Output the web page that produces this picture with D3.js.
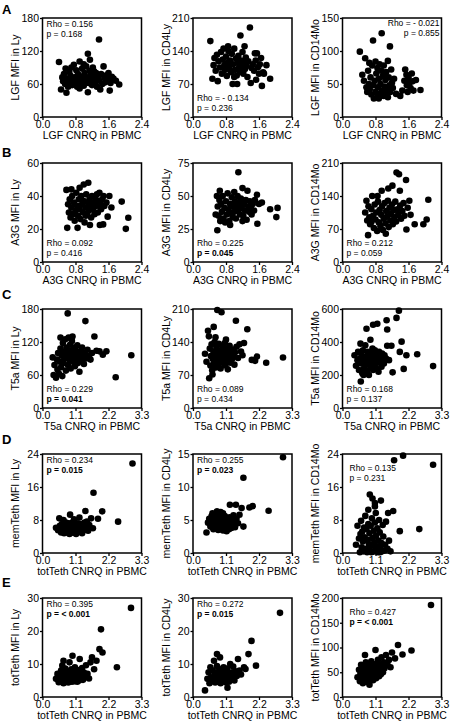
<!DOCTYPE html>
<html><head><meta charset="utf-8">
<script src="https://cdn.jsdelivr.net/npm/d3@7"></script>
<style>body{margin:0;background:#fff}svg{display:block}</style>
</head><body><svg id="c" width="453" height="724"></svg>
<script>
// ---------- data ----------
const panelLetters = ["A","B","C","D","E"];
const genes = ["LGF","A3G","T5a","memTeth","totTeth"];
const xGenes = ["LGF","A3G","T5a","totTeth","totTeth"];
const cellTypes = ["Ly","CD4Ly","CD14Mo"];
const xTicksAB = [0, 0.8, 1.6, 2.4];
const xTicksCDE = [0, 1.1, 2.2, 3.3];
const yTicksA = [[0,60,120,180],[0,70,140,210],[0,50,100,150]];
const yTicksB = [[0,20,40,60],[0,25,50,75],[0,70,140,210]];
const yTicksC = [[0,60,120,180],[0,70,140,210],[0,200,400,600]];
const yTicksD = [[0,8,16,24],[0,5,10,15],[0,8,16,24]];
const yTicksE = [[0,10,20,30],[0,10,20,30],[0,50,100,150,200]];
const rhoA = ["0.156","- 0.134","- 0.021"], pA = ["0.168","0.236","0.855"];
const rhoB = ["0.092","0.225","0.212"], pB = ["0.416","0.045","0.059"];
const rhoC = ["0.229","0.089","0.168"], pC = ["0.041","0.434","0.137"];
const rhoD = ["0.234","0.255","0.135"], pD = ["0.015","0.023","0.231"];
const rhoE = ["0.395","0.272","0.427"], pE = ["< 0.001","0.015","< 0.001"];

const lgfLy = [[0.40,100],[0.45,50],[0.48,72],[0.50,65],[0.52,78],[0.55,60],[0.58,44],[0.60,70],[0.62,55],[0.65,82],[0.66,63],[0.68,75],[0.70,90],[0.72,58],[0.74,68],[0.76,95],[0.78,72],[0.80,62],[0.82,85],[0.84,55],[0.86,78],[0.88,66],[0.90,101],[0.92,70],[0.94,60],[0.96,88],[0.98,74],[1.00,57],[1.02,80],[1.04,66],[1.06,92],[1.08,72],[1.10,115],[1.10,45],[1.12,62],[1.14,84],[1.16,70],[1.18,78],[1.20,58],[1.22,90],[1.24,68],[1.26,75],[1.28,62],[1.30,80],[1.32,55],[1.34,72],[1.37,141],[1.38,66],[1.40,50],[1.42,78],[1.45,60],[1.48,92],[1.50,72],[1.52,63],[1.55,76],[1.58,68],[1.60,80],[1.63,48],[1.65,62],[1.68,73],[1.72,70],[1.78,66],[1.86,59],[0.56,88],[0.90,52],[1.00,96],[1.15,104],[1.25,83]];
const lgfCD4 = [[0.42,161],[0.47,81],[0.50,110],[0.52,125],[0.55,98],[0.58,132],[0.60,76],[0.62,118],[0.65,105],[0.68,138],[0.70,92],[0.72,122],[0.74,145],[0.76,110],[0.78,100],[0.80,128],[0.82,87],[0.84,115],[0.86,140],[0.88,104],[0.90,120],[0.92,95],[0.94,134],[0.96,70],[0.97,112],[1.00,145],[1.02,100],[1.04,124],[1.06,88],[1.07,70],[1.08,115],[1.10,130],[1.12,106],[1.14,96],[1.15,173],[1.16,120],[1.18,110],[1.20,138],[1.22,92],[1.24,116],[1.26,102],[1.28,126],[1.30,108],[1.32,85],[1.34,118],[1.38,190],[1.40,72],[1.42,104],[1.45,112],[1.48,98],[1.50,135],[1.52,120],[1.53,79],[1.55,135],[1.58,106],[1.60,92],[1.62,112],[1.65,125],[1.67,66],[1.70,95],[1.72,92],[1.78,110],[1.87,81],[0.85,150],[1.00,85],[1.25,150]];
const lgfCD14 = [[0.42,99],[0.48,64],[0.52,55],[0.55,89],[0.58,45],[0.60,38],[0.62,70],[0.64,50],[0.66,42],[0.68,60],[0.70,34],[0.72,78],[0.74,116],[0.75,48],[0.76,28],[0.78,55],[0.80,84],[0.80,38],[0.82,66],[0.84,30],[0.85,74],[0.86,45],[0.88,58],[0.90,35],[0.90,80],[0.92,50],[0.94,70],[0.95,127],[0.96,40],[0.98,62],[1.00,32],[1.00,78],[1.02,46],[1.04,56],[1.05,36],[1.06,68],[1.08,42],[1.10,85],[1.10,30],[1.12,60],[1.14,48],[1.15,107],[1.16,38],[1.18,72],[1.20,52],[1.22,44],[1.25,58],[1.30,35],[1.40,32],[1.45,40],[1.50,55],[1.52,72],[1.55,64],[1.56,48],[1.58,38],[1.60,60],[1.62,52],[1.65,44],[1.68,66],[1.70,54],[1.72,40],[1.78,56],[1.89,41],[0.65,82],[0.88,28]];

const a3gLy = [[0.58,43.7],[0.60,20.7],[0.62,35],[0.64,30],[0.66,38],[0.68,27],[0.70,33],[0.72,40],[0.74,29],[0.76,36],[0.78,25],[0.80,31],[0.82,42],[0.84,34],[0.85,20.7],[0.86,28],[0.88,38],[0.90,32],[0.92,26],[0.94,40],[0.96,35],[0.98,30],[1.00,47],[1.00,37],[1.02,24],[1.04,33],[1.06,41],[1.08,29],[1.10,36],[1.11,48],[1.12,31],[1.14,38],[1.15,22.4],[1.16,34],[1.18,27],[1.20,40],[1.22,32],[1.24,36],[1.26,29],[1.28,39],[1.30,34],[1.32,41],[1.34,30],[1.36,37],[1.38,42],[1.39,22.4],[1.40,35],[1.42,32],[1.45,38],[1.47,22.8],[1.48,40],[1.50,34],[1.55,36],[1.58,27.5],[1.62,40],[1.67,33],[1.92,36.6],[2.02,20.1],[2.08,26.8],[0.70,44],[0.90,45],[1.05,28]];
const a3gCD4 = [[0.55,36],[0.58,50],[0.59,24],[0.60,42],[0.62,35],[0.64,47],[0.65,54],[0.66,31],[0.68,44],[0.70,38],[0.72,50],[0.74,33],[0.76,41],[0.78,30],[0.80,46],[0.82,36],[0.84,52],[0.86,40],[0.88,31],[0.90,44],[0.92,37],[0.94,49],[0.96,34],[0.98,42],[1.00,38],[1.02,46],[1.04,33],[1.06,43],[1.08,50],[1.10,68],[1.10,39],[1.12,45],[1.14,36],[1.16,48],[1.18,41],[1.20,56],[1.22,35],[1.24,44],[1.26,39],[1.28,47],[1.30,32],[1.32,54],[1.34,42],[1.36,38],[1.38,46],[1.40,41],[1.42,36],[1.45,44],[1.48,39],[1.50,47],[1.55,51],[1.56,29],[1.60,44],[1.67,45],[1.87,40],[2.02,34],[2.05,41],[0.90,28],[1.00,53],[1.20,31]];
const a3gCD14 = [[0.55,105],[0.58,130],[0.60,88],[0.62,57],[0.63,118],[0.65,95],[0.67,80],[0.70,112],[0.72,140],[0.74,98],[0.76,72],[0.78,122],[0.80,90],[0.82,105],[0.84,66],[0.86,128],[0.88,84],[0.90,110],[0.92,76],[0.94,100],[0.95,151],[0.96,118],[0.98,68],[1.00,92],[1.02,125],[1.04,82],[1.06,108],[1.08,96],[1.10,130],[1.11,156],[1.12,74],[1.14,115],[1.16,88],[1.18,102],[1.20,122],[1.21,162],[1.22,80],[1.24,110],[1.26,95],[1.28,128],[1.30,86],[1.31,190],[1.33,112],[1.35,100],[1.37,186],[1.39,151],[1.40,120],[1.42,92],[1.45,108],[1.48,125],[1.50,98],[1.54,174],[1.55,69],[1.58,115],[1.62,130],[1.65,100],[1.75,80],[1.96,80],[2.04,90],[2.08,132],[0.85,140],[1.05,60],[0.70,85]];

const t5aLy = [[0.34,92],[0.37,60],[0.40,78],[0.45,55],[0.48,88],[0.50,70],[0.52,100],[0.55,62],[0.58,84],[0.60,108],[0.62,74],[0.64,95],[0.66,58],[0.68,118],[0.70,82],[0.72,102],[0.74,90],[0.76,125],[0.78,68],[0.80,110],[0.82,96],[0.84,172],[0.85,78],[0.87,128],[0.88,104],[0.90,88],[0.92,115],[0.94,72],[0.96,100],[0.98,122],[1.00,92],[1.02,84],[1.04,110],[1.06,98],[1.08,76],[1.10,105],[1.12,88],[1.14,96],[1.16,114],[1.18,82],[1.20,100],[1.23,66],[1.25,92],[1.28,104],[1.30,86],[1.32,110],[1.35,94],[1.38,80],[1.40,100],[1.43,158],[1.45,90],[1.50,106],[1.55,95],[1.60,88],[1.65,100],[1.73,130],[1.80,104],[1.90,103],[2.01,97],[2.13,103],[2.44,56],[2.96,96],[0.60,128],[1.00,130]];
const t5aCD4 = [[0.40,115],[0.45,98],[0.50,164],[0.53,152],[0.54,63],[0.56,126],[0.58,90],[0.60,110],[0.62,135],[0.64,80],[0.65,71],[0.66,104],[0.68,120],[0.69,172],[0.70,94],[0.72,140],[0.74,112],[0.76,86],[0.78,128],[0.80,100],[0.81,208],[0.82,118],[0.84,92],[0.86,136],[0.88,106],[0.90,122],[0.92,84],[0.95,203],[0.95,112],[0.98,130],[1.00,96],[1.02,118],[1.04,104],[1.06,138],[1.08,90],[1.10,114],[1.12,126],[1.14,100],[1.16,82],[1.18,120],[1.20,108],[1.22,132],[1.25,96],[1.28,116],[1.30,104],[1.32,124],[1.35,110],[1.38,92],[1.40,118],[1.43,185],[1.45,130],[1.50,106],[1.55,135],[1.60,120],[1.65,112],[1.70,138],[1.81,167],[1.96,102],[2.07,100],[2.13,109],[2.44,96],[3.00,107],[0.75,150],[1.10,145]];
const t5aCD14 = [[0.40,320],[0.45,256],[0.50,290],[0.52,340],[0.55,230],[0.58,300],[0.60,390],[0.61,161],[0.62,270],[0.64,320],[0.66,210],[0.68,350],[0.70,280],[0.72,240],[0.74,310],[0.76,380],[0.78,260],[0.80,480],[0.80,300],[0.82,225],[0.84,340],[0.86,275],[0.88,200],[0.90,310],[0.93,414],[0.94,250],[0.96,295],[0.98,330],[1.00,270],[1.02,505],[1.02,230],[1.04,310],[1.06,260],[1.08,350],[1.10,290],[1.12,240],[1.14,320],[1.16,511],[1.16,275],[1.18,300],[1.20,220],[1.22,340],[1.25,285],[1.28,310],[1.30,250],[1.32,330],[1.35,295],[1.38,270],[1.40,320],[1.45,300],[1.47,532],[1.49,476],[1.49,377],[1.55,290],[1.63,377],[1.67,216],[1.80,546],[1.88,590],[1.91,340],[1.97,402],[2.04,237],[2.13,320],[2.49,326],[3.02,254],[0.70,200],[1.00,360]];

const memLy = [[0.45,6.1],[0.52,5.5],[0.56,8.4],[0.58,6.6],[0.62,5.0],[0.65,7.0],[0.68,5.8],[0.70,6.4],[0.72,4.8],[0.74,6.9],[0.76,5.4],[0.78,7.4],[0.80,6.0],[0.82,5.0],[0.84,6.6],[0.86,5.6],[0.88,7.2],[0.90,4.6],[0.92,9.3],[0.92,6.2],[0.94,5.3],[0.96,6.8],[0.98,5.8],[1.00,7.4],[1.02,4.9],[1.04,6.3],[1.06,5.5],[1.08,7.0],[1.10,6.0],[1.12,4.6],[1.14,6.6],[1.16,5.4],[1.18,7.2],[1.20,5.8],[1.23,8.6],[1.24,6.4],[1.26,5.1],[1.28,7.0],[1.30,6.0],[1.32,4.8],[1.35,6.6],[1.38,5.6],[1.40,7.4],[1.43,10.2],[1.45,6.2],[1.48,7.6],[1.52,5.4],[1.56,6.8],[1.62,8.4],[1.68,6.0],[1.70,14.6],[1.85,8.3],[1.99,10.1],[2.52,7.6],[3.00,21.7],[0.70,8.0],[1.05,8.2]];
const memCD4 = [[0.45,3.1],[0.50,4.6],[0.54,5.2],[0.58,4.0],[0.62,5.6],[0.65,6.0],[0.66,4.4],[0.68,3.6],[0.70,5.0],[0.72,4.2],[0.74,5.5],[0.76,3.8],[0.78,4.8],[0.80,4.1],[0.82,5.3],[0.84,3.5],[0.86,4.6],[0.88,5.8],[0.90,4.0],[0.92,6.2],[0.92,4.9],[0.94,3.7],[0.96,5.2],[0.98,4.4],[1.00,3.4],[1.02,5.0],[1.04,4.2],[1.06,5.6],[1.08,3.9],[1.10,4.7],[1.12,3.3],[1.14,5.3],[1.16,4.1],[1.18,4.9],[1.20,3.6],[1.22,5.4],[1.23,7.3],[1.25,4.4],[1.28,3.8],[1.30,5.0],[1.32,4.3],[1.35,5.7],[1.38,4.6],[1.40,3.9],[1.43,7.3],[1.45,5.2],[1.50,4.5],[1.55,5.8],[1.62,6.8],[1.68,4.0],[1.68,11.4],[1.88,6.9],[1.99,7.1],[2.52,6.4],[3.00,14.5],[0.80,6.3],[1.00,6.0]];
const memCD14 = [[0.45,2.0],[0.50,6.6],[0.55,3.5],[0.58,0.2],[0.60,4.6],[0.62,7.8],[0.64,1.4],[0.66,5.2],[0.68,2.8],[0.70,0.4],[0.72,6.2],[0.74,3.8],[0.76,9.0],[0.78,1.0],[0.80,5.8],[0.82,0.2],[0.84,3.2],[0.86,10.5],[0.86,7.0],[0.88,2.2],[0.90,4.8],[0.91,14.2],[0.92,0.6],[0.94,6.6],[0.96,1.8],[0.98,8.4],[1.00,13.2],[1.00,3.6],[1.02,0.3],[1.04,5.4],[1.06,2.6],[1.08,12.1],[1.08,11.3],[1.08,7.4],[1.10,0.8],[1.11,9.7],[1.12,4.2],[1.14,1.6],[1.16,6.0],[1.18,0.2],[1.20,3.0],[1.22,8.0],[1.24,5.0],[1.26,1.2],[1.28,12.7],[1.30,2.4],[1.32,0.4],[1.34,6.8],[1.36,4.0],[1.40,0.6],[1.42,2.0],[1.45,7.6],[1.50,1.0],[1.52,9.7],[1.55,3.0],[1.60,0.4],[1.69,10.2],[1.72,22.5],[1.91,5.3],[2.02,23.6],[2.56,5.8],[3.02,21.4],[0.96,0.2],[1.25,0.2]];

const totLy = [[0.45,5.5],[0.50,7.0],[0.54,4.5],[0.58,6.2],[0.62,8.0],[0.64,5.0],[0.66,9.5],[0.68,6.5],[0.70,4.2],[0.72,7.4],[0.74,5.6],[0.76,8.6],[0.78,4.8],[0.80,6.8],[0.82,5.4],[0.84,7.8],[0.86,4.4],[0.88,6.2],[0.90,10.5],[0.90,5.0],[0.92,7.2],[0.94,5.8],[0.96,8.4],[0.98,4.6],[1.00,6.6],[1.02,5.2],[1.04,7.6],[1.06,4.8],[1.08,9.0],[1.10,6.0],[1.12,5.4],[1.14,7.0],[1.16,4.6],[1.18,8.2],[1.20,6.4],[1.22,5.0],[1.24,11.5],[1.26,7.2],[1.28,5.8],[1.30,6.6],[1.32,8.8],[1.35,5.2],[1.38,7.4],[1.40,6.0],[1.45,9.6],[1.50,7.0],[1.55,5.6],[1.60,10.5],[1.65,12.0],[1.72,8.4],[1.80,11.0],[1.90,14.5],[1.95,20.5],[2.00,13.5],[2.48,9.0],[2.95,27.0],[0.70,11.0],[1.00,12.5]];
const totCD4 = [[0.40,2.0],[0.48,5.5],[0.52,7.5],[0.55,4.2],[0.58,9.0],[0.60,6.0],[0.64,4.8],[0.66,8.0],[0.68,5.4],[0.70,11.0],[0.72,6.6],[0.74,4.4],[0.76,7.2],[0.78,5.2],[0.80,9.4],[0.82,6.2],[0.84,4.6],[0.86,7.8],[0.88,5.6],[0.90,12.0],[0.90,6.8],[0.92,4.2],[0.94,8.4],[0.96,5.8],[0.98,7.0],[1.00,4.8],[1.02,9.0],[1.04,6.0],[1.06,5.2],[1.08,7.6],[1.10,4.4],[1.12,6.6],[1.14,8.6],[1.16,5.4],[1.18,7.0],[1.20,4.6],[1.22,6.4],[1.24,10.0],[1.26,5.6],[1.28,7.4],[1.30,6.0],[1.34,9.2],[1.38,5.0],[1.42,7.8],[1.46,6.4],[1.50,11.5],[1.55,8.0],[1.60,6.8],[1.70,9.0],[1.75,8.5],[1.85,13.0],[1.95,17.0],[2.10,9.5],[2.90,25.5],[0.80,13.0],[1.15,2.8]];
const totCD14 = [[0.50,40],[0.55,55],[0.58,32],[0.60,48],[0.62,65],[0.64,38],[0.66,52],[0.68,28],[0.70,44],[0.72,60],[0.74,35],[0.76,50],[0.78,70],[0.80,42],[0.82,56],[0.84,30],[0.86,48],[0.88,62],[0.90,38],[0.92,54],[0.94,45],[0.96,72],[0.98,40],[1.00,58],[1.02,34],[1.04,50],[1.06,66],[1.08,44],[1.10,56],[1.12,38],[1.14,62],[1.16,48],[1.18,75],[1.20,52],[1.22,42],[1.24,66],[1.26,56],[1.28,46],[1.30,80],[1.32,60],[1.35,50],[1.38,70],[1.40,58],[1.45,85],[1.50,65],[1.55,75],[1.60,60],[1.65,90],[1.75,78],[1.85,105],[2.00,86],[2.30,94],[2.95,186],[0.75,85],[1.10,95],[0.90,25]];

// ---------- layout ----------
const svg = d3.select("#c");
svg.append("rect").attr("width",453).attr("height",724).attr("fill","#fff");
const colLeft = [42.5, 193, 342.5];
const rowTop = [18, 163, 309, 454, 598];
const letterY = [14, 157, 299, 444, 587];
const W = 99, H = 99;
const FONT = "Arial, 'Liberation Sans', Helvetica, sans-serif";

const allData = [[lgfLy,lgfCD4,lgfCD14],[a3gLy,a3gCD4,a3gCD14],[t5aLy,t5aCD4,t5aCD14],[memLy,memCD4,memCD14],[totLy,totCD4,totCD14]];
const allYTicks = [yTicksA,yTicksB,yTicksC,yTicksD,yTicksE];
const allRho = [rhoA,rhoB,rhoC,rhoD,rhoE];
const allP = [pA,pB,pC,pD,pE];
const place = [["tl","bl","tr"],["bl","bl","bl"],["bl","bl","bl"],["tl","tl","ti"],["tl","tl","ti"]];
const boldP = [[false,false,false],[false,true,false],[true,false,false],[true,true,false],[true,true,true]];

for (let r = 0; r < 5; r++) {
  svg.append("text").attr("x", 2).attr("y", letterY[r]).text(panelLetters[r])
    .attr("font-family", FONT).attr("font-size", 13).attr("font-weight", "bold");
  const xTicks = r < 2 ? xTicksAB : xTicksCDE;
  for (let c = 0; c < 3; c++) {
    const L = colLeft[c], T = rowTop[r];
    const yT = allYTicks[r][c];
    const x = d3.scaleLinear().domain([0, xTicks[xTicks.length-1]]).range([L, L+W]);
    const y = d3.scaleLinear().domain([0, yT[yT.length-1]]).range([T+H, T]);
    const g = svg.append("g");
    g.append("g").selectAll("circle").data(allData[r][c]).join("circle")
      .attr("cx", d => x(d[0])).attr("cy", d => y(d[1])).attr("r", 3.3).attr("fill", "#000");
    const ax = g.append("g").attr("transform", `translate(0,${T+H})`)
      .call(d3.axisBottom(x).tickValues(xTicks).tickFormat(d3.format(".1f")).tickSize(3).tickPadding(1));
    const ay = g.append("g").attr("transform", `translate(${L},0)`)
      .call(d3.axisLeft(y).tickValues(yT).tickFormat(d3.format("d")).tickSize(2.5).tickPadding(1));
    [ax, ay].forEach(a => {
      a.select(".domain").remove();
      a.selectAll("line").attr("stroke", "#000").attr("stroke-width", 1.3);
      a.selectAll("text").attr("font-family", FONT).attr("font-size", 10.5).attr("fill", "#000");
    });
    g.append("rect").attr("x", L).attr("y", T).attr("width", W).attr("height", H)
      .attr("fill", "none").attr("stroke", "#000").attr("stroke-width", 1.5);
    g.append("text").attr("x", L + W/2).attr("y", T + H + 22).attr("text-anchor", "middle")
      .attr("font-family", FONT).attr("font-size", 10.5).text(`${xGenes[r]} CNRQ in PBMC`);
    g.append("text").attr("transform", `translate(${L-23.5},${T+H/2}) rotate(-90)`).attr("text-anchor", "middle")
      .attr("font-family", FONT).attr("font-size", 10.5).text(`${genes[r]} MFI in ${cellTypes[c]}`);
    const pl = place[r][c];
    let ax0 = L + 4, y1 = T + 9, anchor = "start";
    if (pl === "bl") { y1 = T + H - 16; }
    if (pl === "tr") { ax0 = L + W - 2; y1 = T + 8; anchor = "end"; }
    if (pl === "ti") { ax0 = L + 7; y1 = T + 17; }
    g.append("text").attr("x", ax0).attr("y", y1).attr("text-anchor", anchor)
      .attr("font-family", FONT).attr("font-size", 8.5).text(`Rho = ${allRho[r][c]}`);
    g.append("text").attr("x", ax0).attr("y", y1 + 10).attr("text-anchor", anchor)
      .attr("font-family", FONT).attr("font-size", 8.5)
      .attr("font-weight", boldP[r][c] ? "bold" : "normal").text(`p = ${allP[r][c]}`);
  }
}
</script>
</body></html>
